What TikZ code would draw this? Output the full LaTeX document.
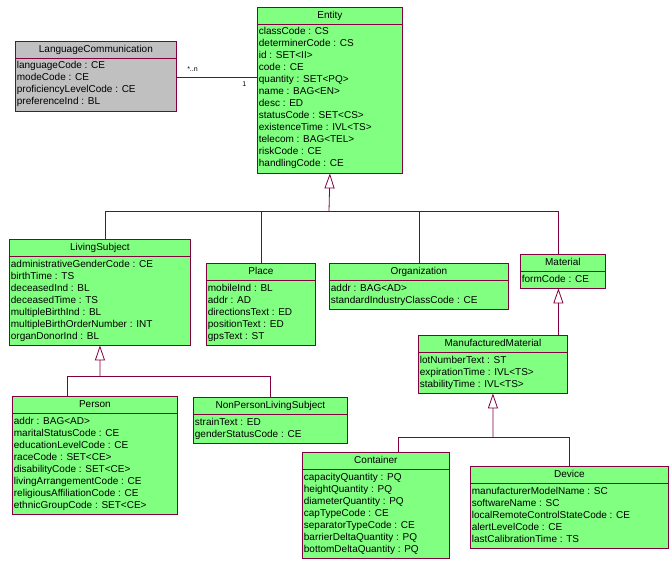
\documentclass[tikz,border=0pt]{standalone}
\usepackage{fontspec}
\setmainfont{Liberation Sans}
\usetikzlibrary{positioning, calc, arrows.meta, shapes.multipart}
\definecolor{umlgreen}{RGB}{128,255,128}
\definecolor{umlgray}{RGB}{192,192,192}
\definecolor{umlwine}{RGB}{128,0,64}
\tikzset{cls/.style={rectangle split, rectangle split parts=2, rectangle split part align={center,left}, draw=umlwine, line width=0.8pt, fill=umlgreen, align=left, anchor=north west, inner xsep=1.5pt, inner ysep=2pt, font=\fontsize{10}{12}\selectfont, minimum width=#1}}
\tikzset{umlline/.style={draw=umlwine, line width=0.8pt}}
\tikzset{inherit/.style={umlline, -{Triangle[open, length=15pt, width=10pt]}}}
\tikzset{mult/.style={font=\fontsize{7}{8}\selectfont, inner sep=1pt}}

\begin{document}
\begin{tikzpicture}[x=1pt, y=-1pt]
\path[use as bounding box, fill=white] (0,0) rectangle (671,564);
%
\node[cls=145pt] (Ent) at (257,7) {\strut Entity\nodepart{two}\strut classCode : CS\\determinerCode : CS\\id : SET<II>\\code : CE\\quantity : SET<PQ>\\name : BAG<EN>\\desc : ED\\statusCode : SET<CS>\\existenceTime : IVL<TS>\\telecom : BAG<TEL>\\riskCode : CE\\handlingCode : CE\strut};
\node[cls=161pt, fill=umlgray] (Lang) at (15,41) {\strut LanguageCommunication\nodepart{two}\strut languageCode : CE\\modeCode : CE\\proficiencyLevelCode : CE\\preferenceInd : BL\strut};
%
\node[cls=181pt] (LS) at (9,239) {\strut LivingSubject\nodepart{two}\strut administrativeGenderCode : CE\\birthTime : TS\\deceasedInd : BL\\deceasedTime : TS\\multipleBirthInd : BL\\multipleBirthOrderNumber : INT\\organDonorInd : BL\strut};
\node[cls=109pt] (Pl) at (206,263) {\strut Place\nodepart{two}\strut mobileInd : BL\\addr : AD\\directionsText : ED\\positionText : ED\\gpsText : ST\strut};
\node[cls=179pt] (Org) at (329,263) {\strut Organization\nodepart{two}\strut addr : BAG<AD>\\standardIndustryClassCode : CE\strut};
\node[cls=85pt] (Mat) at (520,254) {\strut Material\nodepart{two}\strut formCode : CE\strut};
\node[cls=149pt] (MM) at (418,335) {\strut ManufacturedMaterial\nodepart{two}\strut lotNumberText : ST\\expirationTime : IVL<TS>\\stabilityTime : IVL<TS>\strut};
%
\node[cls=165pt] (Per) at (12,396) {\strut Person\nodepart{two}\strut addr : BAG<AD>\\maritalStatusCode : CE\\educationLevelCode : CE\\raceCode : SET<CE>\\disabilityCode : SET<CE>\\livingArrangementCode : CE\\religiousAffiliationCode : CE\\ethnicGroupCode : SET<CE>\strut};
\node[cls=154pt] (NPLS) at (193,397) {\strut NonPersonLivingSubject\nodepart{two}\strut strainText : ED\\genderStatusCode : CE\strut};
\node[cls=147pt] (Cont) at (302,452) {\strut Container\nodepart{two}\strut capacityQuantity : PQ\\heightQuantity : PQ\\diameterQuantity : PQ\\capTypeCode : CE\\separatorTypeCode : CE\\barrierDeltaQuantity : PQ\\bottomDeltaQuantity : PQ\strut};
\node[cls=198pt] (Dev) at (470,466) {\strut Device\nodepart{two}\strut manufacturerModelName : SC\\softwareName : SC\\localRemoteControlStateCode : CE\\alertLevelCode : CE\\lastCalibrationTime : TS\strut};
%
\coordinate (langfoot) at ([yshift=-1pt]Lang.east);
\draw[umlline] (langfoot) -- (langfoot -| Ent.west)
	node[mult, pos=0.06, above right=6pt] {*..n}
	node[mult, pos=0.92, below left=4pt] {1};
%
\coordinate (barE) at (329,211);
\coordinate (barLS) at (100,376);
\coordinate (barMM) at (493,437);
\coordinate (matfoot) at ([xshift=-4.5pt]Mat.south);
\draw[inherit] (barE) -- (Ent.south);
\draw[umlline] ([xshift=5.5pt]LS.north) |- (barE);
\draw[umlline] (Pl.north) |- (barE);
\draw[umlline] (Org.north) |- (barE);
\draw[umlline] ([xshift=-4.5pt]Mat.north) |- (barE);
\draw[inherit] (MM.north -| matfoot) -- (matfoot);
\draw[inherit] (barMM) -- (MM.south);
\draw[umlline] ([xshift=22.5pt]Cont.north) |- (barMM);
\draw[umlline] (Dev.north) |- (barMM);
\draw[inherit] (barLS) -- (LS.south);
\draw[umlline] ([xshift=-27.5pt]Per.north) |- (barLS);
\draw[umlline] (NPLS.north) |- (barLS);
\end{tikzpicture}
\end{document}
